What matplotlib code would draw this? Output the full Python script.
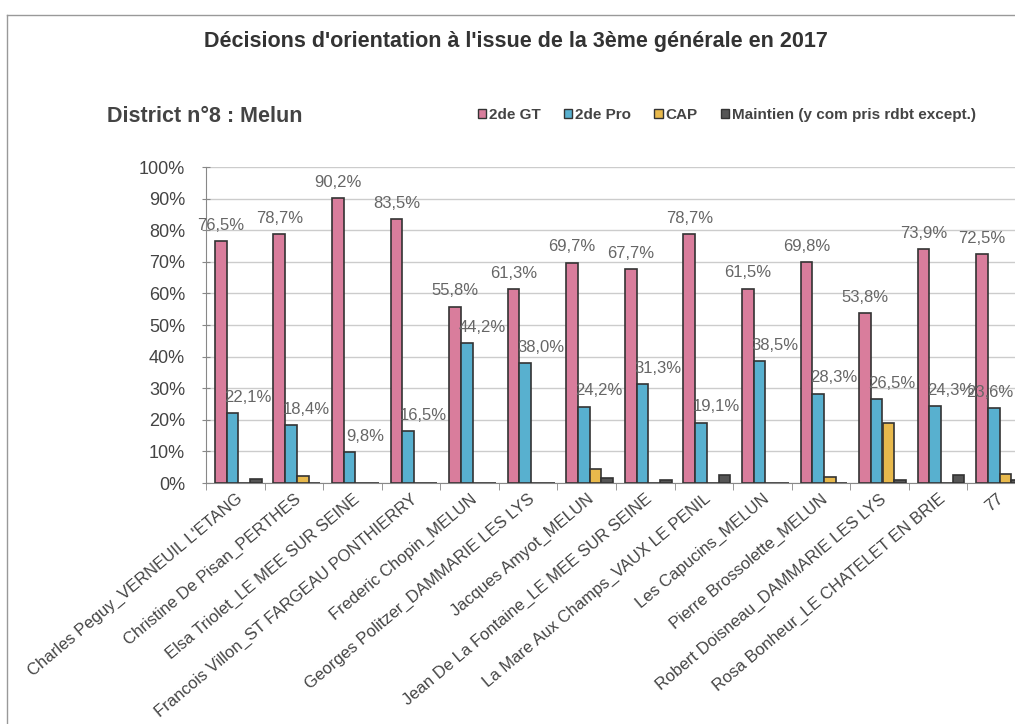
import numpy as np
import matplotlib.pyplot as plt
from matplotlib.patches import Patch

plt.rcParams['font.family'] = ['Liberation Sans', 'DejaVu Sans']

etablissements = [
    "Charles Peguy_VERNEUIL L'ETANG",
    "Christine De Pisan_PERTHES",
    "Elsa Triolet_LE MEE SUR SEINE",
    "Francois Villon_ST FARGEAU PONTHIERRY",
    "Frederic Chopin_MELUN",
    "Georges Politzer_DAMMARIE LES LYS",
    "Jacques Amyot_MELUN",
    "Jean De La Fontaine_LE MEE SUR SEINE",
    "La Mare Aux Champs_VAUX LE PENIL",
    "Les Capucins_MELUN",
    "Pierre Brossolette_MELUN",
    "Robert Doisneau_DAMMARIE LES LYS",
    "Rosa Bonheur_LE CHATELET EN BRIE",
    "77",
]
gt = [76.5, 78.7, 90.2, 83.5, 55.8, 61.3, 69.7, 67.7, 78.7, 61.5, 69.8, 53.8, 73.9, 72.5]
pro = [22.1, 18.4, 9.8, 16.5, 44.2, 38.0, 24.2, 31.3, 19.1, 38.5, 28.3, 26.5, 24.3, 23.6]
cap = [0.0, 2.2, 0.0, 0.0, 0.0, 0.0, 4.5, 0.0, 0.0, 0.0, 1.9, 19.0, 0.0, 3.0]
maintien = [1.4, 0.0, 0.0, 0.0, 0.0, 0.0, 1.6, 1.0, 2.5, 0.0, 0.0, 0.8, 2.5, 1.0]

series = [("2de GT", gt, "#d97d9c"),
          ("2de Pro", pro, "#58b0cf"),
          ("CAP", cap, "#e8b94c"),
          ("Maintien (y com pris rdbt except.)", maintien, "#555555")]

fig = plt.figure(figsize=(10.15, 7.24), dpi=100)
ax = fig.add_axes([206 / 1015, 1 - 483 / 724, 820 / 1015, 316 / 724])

x = np.arange(len(etablissements))
w = 0.2
for k, (nom, vals, col) in enumerate(series):
    ax.bar(x + 0.25 + k * w, vals, width=w, color=col, edgecolor="#333333", linewidth=1.2, zorder=3)

# etiquettes 2de GT et 2de Pro
for i in range(len(x)):
    ax.annotate(f"{gt[i]:.1f}%".replace(".", ","), (x[i] + 0.25, gt[i]), xytext=(0, 6),
                textcoords="offset points", ha="center", va="bottom", fontsize=12,
                color="#666666", zorder=5)
    dx = 11 if i < len(x) - 1 else -3
    ax.annotate(f"{pro[i]:.1f}%".replace(".", ","), (x[i] + 0.45, pro[i]), xytext=(dx, 6),
                textcoords="offset points", ha="center", va="bottom", fontsize=12,
                color="#666666", zorder=5)

ax.set_xlim(0, len(x))
ax.set_ylim(0, 100)
ax.set_yticks(range(0, 101, 10))
ax.set_yticklabels([f"{v}%" for v in range(0, 101, 10)], fontsize=13, color="#444444")
ax.set_xticks(x + 0.5)
ax.set_xticklabels(etablissements, rotation=40, ha="right", rotation_mode="anchor",
                   fontsize=12, color="#444444")
ax.set_xticks(np.arange(len(x) + 1), minor=True)
ax.tick_params(axis="x", which="major", length=0, pad=6)
ax.tick_params(axis="x", which="minor", length=5, color="#888888")
ax.tick_params(axis="y", length=6, color="#888888", direction="inout", pad=12)
ax.grid(axis="y", color="#cccccc", linewidth=1, zorder=0)
for s in ["top", "right"]:
    ax.spines[s].set_visible(False)
ax.spines["left"].set_color("#888888")
ax.spines["bottom"].set_color("#888888")

fig.text(516 / 1015, 1 - 42 / 724, "Décisions d'orientation à l'issue de la 3ème générale en 2017",
         ha="center", va="center", fontsize=15.5, fontweight="bold", color="#333333")
fig.text(107 / 1015, 1 - 117 / 724, "District n°8 : Melun",
         ha="left", va="center", fontsize=15.5, fontweight="bold", color="#444444")

handles = [Patch(facecolor=c, edgecolor="#333333", label=n) for n, v, c in series]
leg = fig.legend(handles=handles, ncol=4, loc="center left", bbox_to_anchor=(464 / 1015, 1 - 115 / 724),
                 frameon=False, handlelength=0.55, handleheight=0.55, handletextpad=0.2,
                 columnspacing=1.5, prop={"size": 11, "weight": "bold"})
for t in leg.get_texts():
    t.set_color("#444444")

# cadre
fig.add_artist(plt.Line2D([7 / 1015, 7 / 1015], [0, 1 - 15 / 724], color="#999999", linewidth=1))
fig.add_artist(plt.Line2D([7 / 1015, 1], [1 - 15 / 724, 1 - 15 / 724], color="#999999", linewidth=1))

plt.savefig("out.png", dpi=100)
